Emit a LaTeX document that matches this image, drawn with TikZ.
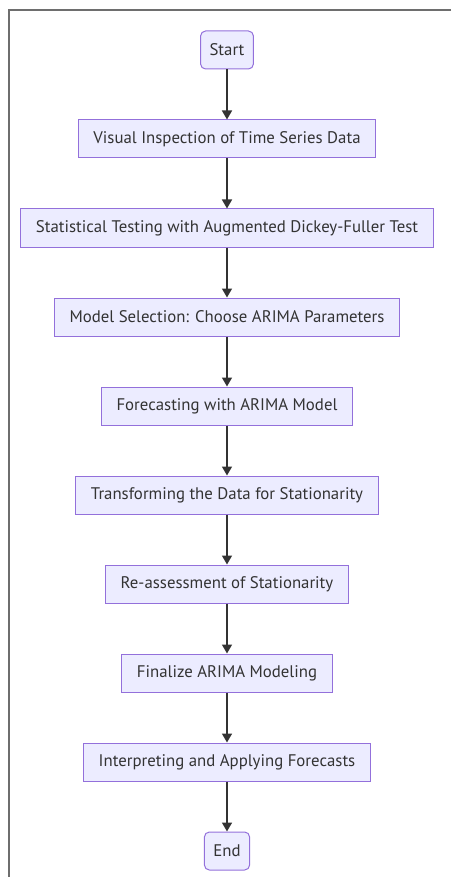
\documentclass[tikz,border=0pt]{standalone}
\usepackage{fontspec}
\newfontfamily\flowfont{PT Sans}
\usetikzlibrary{arrows.meta,positioning}

\definecolor{boxfill}{HTML}{ECECFF}
\definecolor{boxline}{HTML}{9370DB}
\definecolor{textgray}{HTML}{333333}
\definecolor{framegray}{HTML}{6E6E6E}

\begin{document}
\begin{tikzpicture}[
    x=1pt, y=1pt,
    every node/.style={font=\flowfont\fontsize{16.8}{20}\selectfont, text=textgray},
    stepbox/.style={draw=boxline, fill=boxfill, line width=1pt,
        minimum height=38pt, inner xsep=15pt},
    termbox/.style={stepbox, rounded corners=5pt, inner xsep=9pt},
    flow/.style={-{Triangle[width=10pt,length=9pt]}, line width=1.6pt, draw=textgray},
    node distance=50pt,
]

% === Page and frame ===
\def\pageW{451}
\def\pageH{877}
\def\colX{227}
\useasboundingbox (0,0) rectangle (\pageW,-\pageH);
\draw[framegray, line width=2pt] (\pageW,-10) -- (9,-10) -- (9,-\pageH);

% === Flow steps ===
\node[termbox] (start) at (\colX,-50) {Start};
\node[stepbox, below=of start] (inspect) {Visual Inspection of Time Series Data};
\node[stepbox, below=of inspect] (adf) {Statistical Testing with Augmented Dickey-Fuller Test};
\node[stepbox, below=of adf] (select) {Model Selection: Choose ARIMA Parameters};
\node[stepbox, below=of select] (forecast) {Forecasting with ARIMA Model};
\node[stepbox, below=of forecast] (transform) {Transforming the Data for Stationarity};
\node[stepbox, below=of transform] (reassess) {Re-assessment of Stationarity};
\node[stepbox, below=of reassess] (finalize) {Finalize ARIMA Modeling};
\node[stepbox, below=of finalize] (apply) {Interpreting and Applying Forecasts};
\node[termbox, below=of apply] (end) {End};

% === Connectors ===
\foreach \from/\to in {start/inspect, inspect/adf, adf/select, select/forecast,
    forecast/transform, transform/reassess, reassess/finalize,
    finalize/apply, apply/end} {
    \draw[flow] (\from) -- (\to);
}

\end{tikzpicture}
\end{document}
